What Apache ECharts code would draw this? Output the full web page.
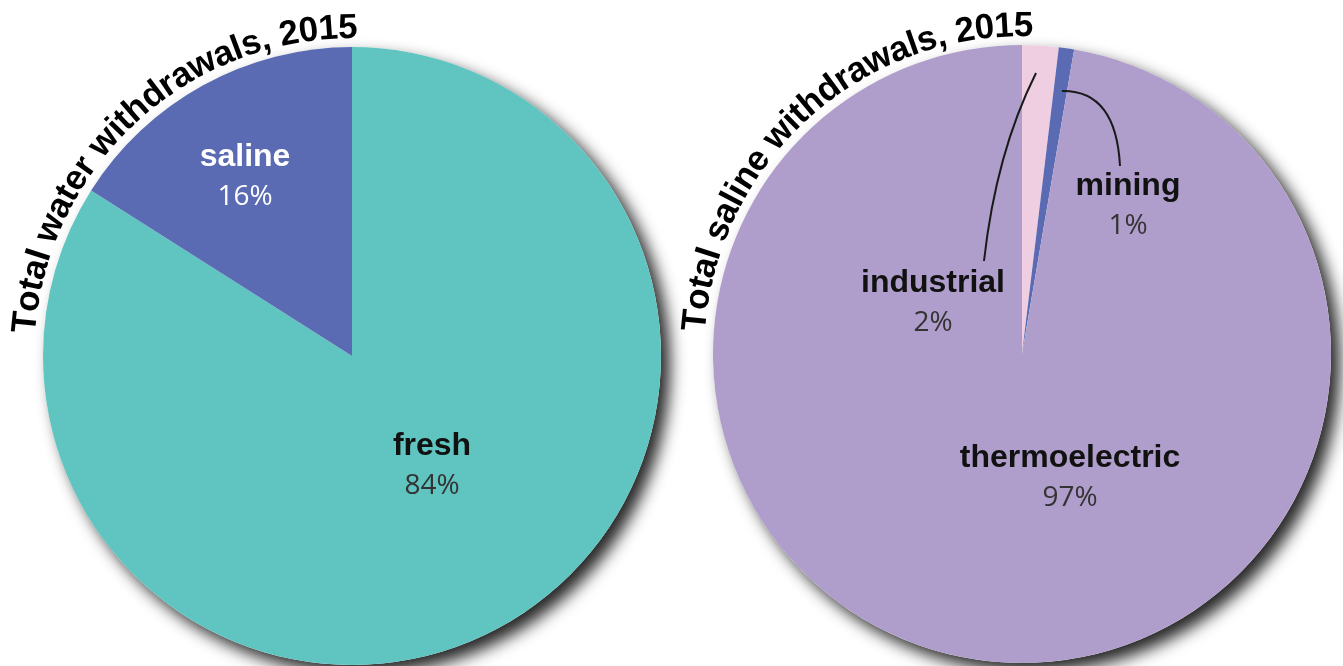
<!DOCTYPE html>
<html>
<head>
<meta charset="utf-8">
<script src="https://cdn.jsdelivr.net/npm/echarts@6/dist/echarts.min.js"></script>
<style>
  html, body { margin: 0; padding: 0; background: #fff; }
  #chart { width: 1343px; height: 666px; }
</style>
</head>
<body>
<div id="chart"></div>
<script>
// ---- data ----
const totalNames = ['fresh', 'saline'];
const totalShares = [84, 16];
const salineNames = ['industrial', 'mining', 'thermoelectric'];
const salineShares = [1.9, 0.8, 97.3];
const pieTitles = ['Total water withdrawals, 2015', 'Total saline withdrawals, 2015'];

// ---- look ----
const sliceColors = {
  fresh: '#60c4c0', saline: '#5a6bb3',
  industrial: '#f0cee1', mining: '#5a6bb3', thermoelectric: '#af9ecb'
};
const whiteText = { saline: true };
const pies = [
  { center: [352, 356], r: 309, from: -86, to: 1 },
  { center: [1022, 354], r: 309, from: -86, to: 2 }
];
// where each label block sits (centre)
const labelSpots = {
  saline: [245, 177], fresh: [432, 466],
  industrial: [933, 303], mining: [1128, 206], thermoelectric: [1070, 478]
};
// leader curves: start on slice, control point, end at label
const leaders = {
  industrial: { from: [1036, 73], ctrl: [996, 153], to: [984, 261] },
  mining: { from: [1062, 91], ctrl: [1116, 90], to: [1120, 166] }
};

const chart = echarts.init(document.getElementById('chart'));

function pct(v, arr) {
  const sum = arr.reduce((a, b) => a + b, 0);
  return Math.round(v / sum * 100);
}

function pieData(names, shares) {
  return names.map((n, i) => ({
    name: n,
    value: shares[i],
    itemStyle: { color: sliceColors[n] },
    label: {
      formatter: () => whiteText[n]
        ? `{nw|${n}}\n{pw|${pct(shares[i], shares)}%}`
        : `{n|${n}}\n{p|${pct(shares[i], shares)}%}`
    }
  }));
}

const richStyles = {
  n: { fontFamily: 'Liberation Sans', fontWeight: 'bold', fontSize: 32, lineHeight: 40, color: '#111' },
  p: { fontFamily: 'Open Sans', fontSize: 28, lineHeight: 40, color: '#333' },
  nw: { fontFamily: 'Liberation Sans', fontWeight: 'bold', fontSize: 32, lineHeight: 40, color: '#fff' },
  pw: { fontFamily: 'Open Sans', fontSize: 28, lineHeight: 40, color: '#fff' }
};

const allNames = [totalNames, salineNames];

function makeLayout(seriesNames) {
  return function (params) {
    const spot = labelSpots[seriesNames[params.dataIndex]];
    return { x: spot[0], y: spot[1], align: 'center', verticalAlign: 'middle' };
  };
}

const graphics = [];

// curved titles: one text element per character along the rim
const titleSize = 35;
const measure = document.createElement('canvas').getContext('2d');
measure.font = 'bold ' + titleSize + 'px "Liberation Sans"';
pieTitles.forEach((title, k) => {
  const p = pies[k];
  const chars = title.split('');
  const widths = chars.map(c => measure.measureText(c).width);
  const total = widths.reduce((a, b) => a + b, 0);
  const span = (p.to - p.from) * Math.PI / 180;
  const R = p.r + 1;
  let acc = 0;
  chars.forEach((c, i) => {
    const th = p.from * Math.PI / 180 + (acc + widths[i] / 2) / total * span;
    acc += widths[i];
    if (c === ' ') return;
    graphics.push({
      type: 'text',
      x: p.center[0] + R * Math.sin(th),
      y: p.center[1] - R * Math.cos(th),
      rotation: -th,
      silent: true,
      z: 10,
      style: {
        text: c,
        fontFamily: 'Liberation Sans',
        fontWeight: 'bold',
        fontSize: titleSize,
        fill: '#000',
        align: 'center',
        verticalAlign: 'bottom'
      }
    });
  });
});

// leader lines for the two thin slices
Object.keys(leaders).forEach(name => {
  const l = leaders[name];
  graphics.push({
    type: 'bezierCurve',
    silent: true,
    z: 10,
    shape: { x1: l.from[0], y1: l.from[1], cpx1: l.ctrl[0], cpy1: l.ctrl[1], x2: l.to[0], y2: l.to[1] },
    style: { stroke: '#1a1a1a', lineWidth: 2, fill: null }
  });
});

const series = [];
pies.forEach((p, k) => {
  const shares = k === 0 ? totalShares : salineShares;
  // shadowed disc underneath
  series.push({
    type: 'pie',
    center: p.center,
    radius: p.r,
    silent: true,
    label: { show: false },
    labelLine: { show: false },
    data: [{ value: shares.reduce((a, b) => a + b, 0), itemStyle: { color: '#fff' } }],
    itemStyle: {
      shadowBlur: 16,
      shadowColor: 'rgba(0,0,0,0.85)',
      shadowOffsetX: 9,
      shadowOffsetY: 9
    }
  });
  series.push({
    type: 'pie',
    center: p.center,
    radius: p.r,
    startAngle: 90,
    clockwise: true,
    silent: true,
    avoidLabelOverlap: false,
    itemStyle: { borderWidth: 0 },
    label: { show: true, position: 'outside', rich: richStyles },
    labelLine: { show: false },
    labelLayout: makeLayout(allNames[k]),
    data: k === 0 ? pieData(totalNames, totalShares) : pieData(salineNames, salineShares)
  });
});

chart.setOption({
  animation: false,
  backgroundColor: '#fff',
  series: series,
  graphic: graphics
});
</script>
</body>
</html>
